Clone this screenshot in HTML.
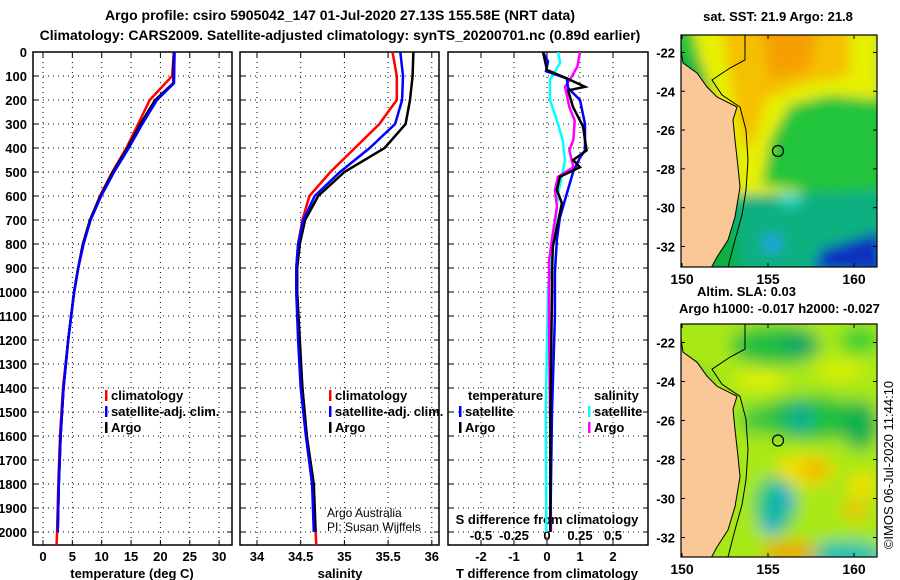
<!DOCTYPE html>
<html><head><meta charset="utf-8"><style>
body{margin:0;background:#fff;}
svg{display:block;font-family:"Liberation Sans",sans-serif;}
.b{font-weight:bold;font-size:13px;}
.n{font-weight:normal;}
</style></head><body>
<svg id="c" width="900" height="580" viewBox="0 0 900 580">
<defs>
<clipPath id="cp1"><rect x="33" y="52" width="199" height="493"/></clipPath>
<clipPath id="cp2"><rect x="240" y="52" width="199" height="493"/></clipPath>
<clipPath id="cp3"><rect x="448" y="52" width="200" height="493"/></clipPath>
<clipPath id="m1"><rect x="681" y="35" width="196" height="232"/></clipPath>
<clipPath id="m2"><rect x="681" y="324" width="196" height="233"/></clipPath>
<filter id="bl" x="-10%" y="-10%" width="120%" height="120%"><feGaussianBlur stdDeviation="8"/></filter>
<filter id="bl2" x="-10%" y="-10%" width="120%" height="120%"><feGaussianBlur stdDeviation="6"/></filter>
</defs>
<text x="340" y="20" text-anchor="middle" class="b" style="font-size:14px">Argo profile: csiro 5905042_147 01-Jul-2020 27.13S 155.58E (NRT data)</text>
<text x="340" y="40" text-anchor="middle" class="b" style="font-size:14px">Climatology: CARS2009. Satellite-adjusted climatology: synTS_20200701.nc (0.89d earlier)</text>
<g id="g"></g>
</svg>
<script>
// ---- data ----
const tempDepth=[0,130,200,300,400,500,600,700,800,900,1000,1200,1400,1600,1800,2000];
const tempArgo=[22.3,22.2,19.1,16.6,14.4,11.9,9.8,8.0,6.8,6.0,5.3,4.3,3.5,3.0,2.7,2.5];
const tempSat=[22.4,22.3,19.4,16.9,14.6,12.1,9.9,8.1,6.9,6.0,5.3,4.3,3.5,3.0,2.7,2.5];
const tempClimDepth=[0,100,200,300,400,500,600,700,800,900,1000,1200,1400,1600,1800,2000,2060];
const tempClim=[22.3,22.0,18.2,16.2,14.2,11.8,9.7,8.0,6.8,6.0,5.3,4.3,3.4,2.9,2.6,2.4,2.3];
const salDepth=[0,100,200,300,400,500,600,700,800,900,1000,1200,1400,1600,1800,2000];
const salArgo=[35.79,35.78,35.75,35.7,35.46,35.0,34.7,34.55,34.49,34.46,34.46,34.49,34.52,34.57,34.65,34.67];
const salSat=[35.64,35.67,35.66,35.58,35.29,34.95,34.66,34.53,34.47,34.45,34.45,34.47,34.5,34.56,34.63,34.65];
const salClimDepth=[0,100,200,300,400,500,600,700,800,900,1000,1200,1400,1600,1800,2000,2060];
const salClim=[35.55,35.6,35.6,35.4,35.12,34.84,34.6,34.52,34.47,34.45,34.45,34.48,34.52,34.57,34.63,34.67,34.68];
const dTsatDepth=[0,40,80,110,150,200,300,410,440,500,590,690,780,920,1100,1500,2000];
const dTsat=[-0.12,0.03,-0.03,0.6,0.64,1.0,1.15,1.15,1.0,0.79,0.6,0.39,0.3,0.24,0.24,0.15,0.1];
const dTargoDepth=[0,75,110,145,160,230,310,410,450,480,520,575,630,730,810,920,1000,1500,2000];
const dTargo=[-0.12,0,0.6,1.15,0.64,0.79,1.09,1.2,0.79,1.0,0.39,0.3,0.45,0.3,0.18,0.15,0.15,0.1,0.1];
const dSsatDepth=[0,45,115,200,300,370,450,500,590,730,840,980,1500,2000];
const dSsat=[0.083,0.1,0.023,0.023,0.083,0.12,0.136,0.12,0.083,0.06,0.038,0.008,-0.01,-0.005];
const dSargoDepth=[0,60,100,145,230,285,365,410,480,520,575,645,700,780,870,1120,1600,2000];
const dSargo=[0.25,0.23,0.19,0.136,0.17,0.21,0.2,0.17,0.2,0.083,0.06,0.076,0.06,0.038,0.015,0.015,0.025,0.03];
const depthTicks=[0,100,200,300,400,500,600,700,800,900,1000,1100,1200,1300,1400,1500,1600,1700,1800,1900,2000];
const tempTicks=[0,5,10,15,20,25,30];
const salTicks=[34,34.5,35,35.5,36];
const salTickLabels=["34","34.5","35","35.5","36"];
const dTTicks=[-2,-1,0,1,2];
const dSTicks=[-0.5,-0.25,0,0.25,0.5];
const latTicks=[-22,-24,-26,-28,-30,-32];
const lonTicks=[150,155,160];

const NS="http://www.w3.org/2000/svg";
const G=document.getElementById('g');
function el(t,a,p){const e=document.createElementNS(NS,t);for(const k in a)e.setAttribute(k,a[k]);(p||G).appendChild(e);return e;}
const yD=d=>52+d*0.24;
const xT=v=>43+v*5.87;
const xS=v=>257+(v-34)*87.4;
const xdT=v=>547+v*33;
const xdS=v=>547+v*132;
function series(xs,ds,fx,col,clip,name){
  let p='';xs.forEach((v,i)=>{p+=(i?'L':'M')+fx(v).toFixed(1)+','+yD(ds[i]).toFixed(1);});
  const e=el('path',{d:p,fill:'none',stroke:col,'stroke-width':2.5,'clip-path':'url(#'+clip+')'});
  
  
}
function txt(x,y,s,anchor,cls,name,extra){
  const e=el('text',Object.assign({x:x,y:y,'text-anchor':anchor||'start','class':cls||'b'},extra||{}));
  e.textContent=s;
  
  
  return e;
}
function panel(x0,x1,gx,clip,name){
  const r=el('rect',{x:x0,y:52,width:x1-x0,height:493,fill:'#fff',stroke:'#000','stroke-width':1.5});
  
  
  depthTicks.forEach(d=>{el('line',{x1:x0,x2:x1,y1:yD(d),y2:yD(d),stroke:'#000','stroke-dasharray':'1,4','stroke-width':1});
    el('line',{x1:x0,x2:x0+5,y1:yD(d),y2:yD(d),stroke:'#000'});el('line',{x1:x1-5,x2:x1,y1:yD(d),y2:yD(d),stroke:'#000'});});
  gx.forEach(x=>{el('line',{x1:x,x2:x,y1:52,y2:545,stroke:'#000','stroke-dasharray':'1,4'});
    el('line',{x1:x,x2:x,y1:545,y2:540,stroke:'#000'});el('line',{x1:x,x2:x,y1:52,y2:57,stroke:'#000'});});
}
depthTicks.forEach(d=>txt(27,yD(d)+5,String(d),'end','b','depth-tick-label'));
// panel 1
panel(33,232,tempTicks.map(xT),'cp1','temperature-panel');
tempTicks.forEach(v=>txt(xT(v),561,String(v),'middle','b','temperature-tick-label'));
txt(132,578,'temperature (deg C)','middle','b','temperature-axis-title');
series(tempClim,tempClimDepth,xT,'#f00','cp1','temp-climatology-line');
series(tempSat,tempDepth,xT,'#00f','cp1','temp-satellite-line');
series(tempArgo,tempDepth,xT,'#000','cp1','temp-argo-line');
series(tempSat,tempDepth,xT,'#00f','cp1','temp-satellite-line-top');
// panel 2
panel(240,439,salTicks.map(xS),'cp2','salinity-panel');
salTicks.forEach((v,i)=>txt(xS(v),561,salTickLabels[i],'middle','b','salinity-tick-label'));
txt(340,578,'salinity','middle','b','salinity-axis-title');
series(salClim,salClimDepth,xS,'#f00','cp2','sal-climatology-line');
series(salArgo,salDepth,xS,'#000','cp2','sal-argo-line');
series(salSat,salDepth,xS,'#00f','cp2','sal-satellite-line');
txt(327,517,'Argo Australia','start','n','credit-line-1',{style:'font-size:12px'});
txt(327,531,'PI: Susan Wijffels','start','n','credit-line-2',{style:'font-size:12px'});
// panel 3
panel(448,648,dSTicks.map(xdS),'cp3','difference-panel');
dTTicks.forEach(v=>txt(xdT(v),561,String(v),'middle','b','t-diff-tick-label'));
txt(547,578,'T difference from climatology','middle','b','t-diff-axis-title');
dSTicks.forEach(v=>txt(xdS(v),540,String(v),'middle','b','s-diff-tick-label'));
txt(547,524,'S difference from climatology','middle','b','s-diff-axis-title');
series(dSsat,dSsatDepth,xdS,'#0ff','cp3','s-diff-satellite-line');
series(dSargo,dSargoDepth,xdS,'#f0f','cp3','s-diff-argo-line');
series(dTsat,dTsatDepth,xdT,'#00f','cp3','t-diff-satellite-line');
series(dTargo,dTargoDepth,xdT,'#000','cp3','t-diff-argo-line');
function leg(x,y,col,s,name){const r=el('rect',{x:x,y:y-10,width:2.5,height:11,fill:col});
  
  txt(x+6,y,s,'start','b',name);}
leg(105,400,'#f00','climatology','legend-temp-climatology');
leg(105,416,'#00f','satellite-adj. clim.','legend-temp-satellite');
leg(105,432,'#000','Argo','legend-temp-argo');
leg(329,400,'#f00','climatology','legend-sal-climatology');
leg(329,416,'#00f','satellite-adj. clim.','legend-sal-satellite');
leg(329,432,'#000','Argo','legend-sal-argo');
txt(468,400,'temperature','start','b','legend-diff-temperature-heading');
leg(459,416,'#00f','satellite','legend-diff-t-satellite');
leg(459,432,'#000','Argo','legend-diff-t-argo');
txt(594,400,'salinity','start','b','legend-diff-salinity-heading');
leg(588,416,'#0ff','satellite','legend-diff-s-satellite');
leg(588,432,'#f0f','Argo','legend-diff-s-argo');

// ---- maps ----
const coast=[[681,35],[681,50],[683,63],[697,73],[707,87],[717,97],[737,107],[733,120],[735,140],[738,167],[740,187],[735,217],[728,240],[717,257],[710,270],[681,270]];
const shelf=[[745,35],[745,60],[730,68],[712,80],[722,95],[740,107],[746,130],[748,160],[746,190],[742,215],[735,240],[728,267]];
function map(top,bot,lat0,pxLat,clip,kind,name){
  const g=el('g',{'clip-path':'url(#'+clip+')'});
  
  const off=top-35;
  const o=el('g',{filter:'url(#'+(kind==1?'bl2':'bl')+')'},g);
  if(kind==1){
    el('rect',{x:660,y:top-20,width:240,height:bot-top+40,fill:'#22c43a'},o);
    el('path',{d:`M690,${15+off} L880,${15+off} L880,${100+off} L830,${95+off} L790,${105+off} L770,${140+off} L762,${185+off} L800,${190+off} L820,${215+off} L740,${220+off} L720,${150+off} Z`,fill:'#e6f000'},o);
    el('path',{d:`M720,${15+off} L850,${15+off} L850,${75+off} L800,${85+off} L765,${100+off} L755,${140+off} L745,${150+off} L735,${110+off} Z`,fill:'#f5c000'},o);
    el('path',{d:`M760,${20+off} L820,${20+off} L810,${70+off} L770,${80+off} Z`,fill:'#f5a000'},o);
    el('path',{d:`M735,${195+off} L890,${190+off} L890,${290+off} L730,${290+off} Z`,fill:'#10b080'},o);
    el('path',{d:`M650,${60+off} L700,${60+off} L730,${150+off} L740,${280+off} L650,${280+off} Z`,fill:'#10b040'},o);
    el('ellipse',{cx:772,cy:243,rx:10,ry:10,fill:'#20a0e0'},o);
    el('path',{d:`M815,${270+off} L820,${250+off} L880,${232+off} L885,${275+off} Z`,fill:'#1030c0'},o);
    el('ellipse',{cx:790,cy:200,rx:12,ry:8,fill:'#20d0c0'},o);
  }else{
    el('rect',{x:660,y:top-20,width:240,height:bot-top+40,fill:'#a8e818'},o);
    [[775,345,45,20,'#20c040'],[800,345,20,14,'#10a860'],[860,340,20,14,'#40d030'],
     [810,418,55,22,'#20c040'],[800,418,15,15,'#10b090'],[860,425,18,25,'#10b050'],[755,420,15,15,'#40c840'],[700,395,12,25,'#30c040'],
     [760,380,25,10,'#e0f000'],[840,370,25,10,'#d8f000'],
     [805,470,30,16,'#f0e000'],[815,470,14,9,'#f0b000'],[862,485,14,14,'#f0e000'],[855,510,12,10,'#f0c000'],
     [775,505,20,28,'#10c090'],[785,498,9,9,'#10a0e0'],[770,525,7,10,'#10a0e0'],
     [845,555,40,14,'#10c0b0'],[790,552,28,10,'#f0a000'],[720,470,10,20,'#40c840']].forEach(e=>el('ellipse',{cx:e[0],cy:e[1],rx:e[2],ry:e[3],fill:e[4]},o));
  }
  const sc=(bot-top)/232;
  el('polygon',{points:coast.map(p=>p[0]+','+(top+(p[1]-35)*sc)).join(' '),fill:'#fac896'},g);
  el('polyline',{points:shelf.map(p=>p[0]+','+(top+(p[1]-35)*sc)).join(' '),fill:'none',stroke:'#000','stroke-width':1},g);
  el('polyline',{points:coast.slice(0,15).map(p=>p[0]+','+(top+(p[1]-35)*sc)).join(' '),fill:'none',stroke:'#000','stroke-width':1},g);
  const c=el('circle',{cx:778,cy:top+116*sc,r:5.5,fill:'none',stroke:'#000','stroke-width':1.2},g);
  
  el('rect',{x:681,y:top,width:196,height:bot-top,fill:'none',stroke:'#000','stroke-width':1.2});
  latTicks.forEach(l=>{const y=top+(lat0-l)*pxLat;
    txt(675,y+5,String(l),'end','b','latitude-tick-label');
    el('line',{x1:681,x2:685,y1:y,y2:y,stroke:'#000'});el('line',{x1:873,x2:877,y1:y,y2:y,stroke:'#000'});});
  lonTicks.forEach(l=>{const x=682+(l-150)*17.2;
    txt(x,bot+17,String(l),'middle','b','longitude-tick-label',{style:'font-size:14px'});
    el('line',{x1:x,x2:x,y1:top,y2:top+4,stroke:'#000'});el('line',{x1:x,x2:x,y1:bot-4,y2:bot,stroke:'#000'});});
}
map(35,267,-21.1,19.4,'m1',1,'sst-map');
map(324,557,-21.05,19.5,'m2',2,'sla-map');
txt(778,21,'sat. SST: 21.9 Argo: 21.8','middle','b','sst-map-title');
txt(697,296,'Altim. SLA: 0.03','start','b','sla-label');
txt(679,313,'Argo h1000: -0.017 h2000: -0.027','start','b','steric-height-label');
txt(0,0,'©IMOS 06-Jul-2020 11:44:10','middle','n','imos-timestamp',{transform:'translate(893,465) rotate(-90)',style:'font-size:13px'});
</script>
</body></html>
